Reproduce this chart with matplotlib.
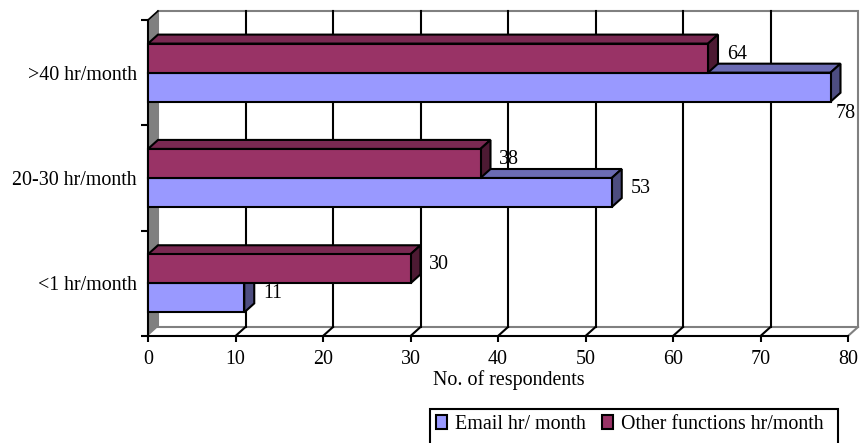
import numpy as np
import matplotlib.pyplot as plt
from matplotlib.patches import Polygon, Patch, Rectangle

# data
categories = ['<1 hr/month', '20-30 hr/month', '>40 hr/month']
email = [11, 53, 78]
other = [30, 38, 64]
series_names = ['Email hr/ month', 'Other functions hr/month']
xticks = [0, 10, 20, 30, 40, 50, 60, 70, 80]

email_cols = ('#9999FF', '#6B6BB3', '#4D4D80')   # front, top, side
other_cols = ('#993366', '#7A2952', '#4D1A33')

plt.rcParams['font.family'] = ['Liberation Serif', 'DejaVu Serif']
plt.rcParams['font.size'] = 14.4

W, H = 860, 443
fig = plt.figure(figsize=(W / 100, H / 100), dpi=100)
ax = fig.add_axes([148 / W, 1 - 336 / H, 700 / W, 316 / H])
xmax = xticks[-1]
ax.set_xlim(0, xmax)
ax.set_ylim(-0.5, len(categories) - 0.5)
ytop = len(categories) - 0.5

# depth of the fake 3d box in data units (about 10 px right, 9 px up)
dx = 10 * xmax / 700
dy = 9 * len(categories) / 316
bh = 0.276

# back wall, left wall, floor grid
ax.add_patch(Polygon([(dx, -0.5 + dy), (xmax + dx, -0.5 + dy), (xmax + dx, ytop + dy), (dx, ytop + dy)],
                     closed=True, facecolor='white', edgecolor='#808080', lw=1.5, clip_on=False, zorder=0))
ax.add_patch(Polygon([(0, -0.5), (0, ytop), (dx, ytop + dy), (dx, -0.5 + dy)],
                     closed=True, facecolor='#808080', edgecolor='none', clip_on=False, zorder=0.5))
ax.plot([0, dx], [ytop, ytop + dy], color='black', lw=1.2, clip_on=False, zorder=0.6)
for t in xticks[1:]:
    col = 'black' if t < xmax else '#808080'
    if t < xmax:
        ax.plot([t + dx, t + dx], [-0.5 + dy, ytop + dy], color=col, lw=1.5, clip_on=False, zorder=1)
    ax.plot([t, t + dx], [-0.5, -0.5 + dy], color=col, lw=1.5, clip_on=False, zorder=1)


def bar3d(v, y0, cols, z):
    y1 = y0 + bh
    faces = [
        ([(0, y1), (v, y1), (v + dx, y1 + dy), (dx, y1 + dy)], cols[1]),
        ([(v, y0), (v, y1), (v + dx, y1 + dy), (v + dx, y0 + dy)], cols[2]),
        ([(0, y0), (v, y0), (v, y1), (0, y1)], cols[0]),
    ]
    for pts, c in faces:
        ax.add_patch(Polygon(pts, closed=True, facecolor=c, edgecolor='black',
                             lw=1.5, joinstyle='miter', clip_on=False, zorder=z))


def value_label(v, y0):
    y1 = y0 + bh
    x = v + dx + 1.0
    if x + 2.5 > xmax + dx:
        ax.text(v + dx - 0.6, y0 - 0.11, str(v), ha='left', va='center', zorder=6)
    else:
        ax.text(x, y1 - 0.1, str(v), ha='left', va='center', zorder=6)


for i in range(len(categories)):
    bar3d(email[i], i - bh, email_cols, 3 + i)
    bar3d(other[i], i, other_cols, 3.5 + i)
    value_label(email[i], i - bh)
    value_label(other[i], i)

# axes
for s in ['top', 'right']:
    ax.spines[s].set_visible(False)
for s in ['left', 'bottom']:
    ax.spines[s].set_linewidth(1.5)
    ax.spines[s].set_zorder(2)
ax.set_xticks(xticks)
ax.tick_params(axis='x', direction='out', length=4, width=1.5, pad=6)
ax.set_yticks(np.arange(len(categories) + 1) - 0.5)
ax.set_yticklabels([])
ax.set_yticks(np.arange(len(categories)), minor=True)
ax.set_yticklabels(categories, minor=True)
ax.tick_params(axis='y', which='major', direction='out', length=5, width=1.5)
ax.tick_params(axis='y', which='minor', length=0, pad=8)
ax.set_xlabel('No. of respondents')
ax.xaxis.set_label_coords(0.516, -0.108)

handles = [Patch(facecolor=email_cols[0], edgecolor='black', lw=1.5),
           Patch(facecolor=other_cols[0], edgecolor='black', lw=1.5)]
leg = fig.legend(handles, series_names, loc='upper left', bbox_to_anchor=(432 / W, 1 - 411 / H),
                 ncol=2, frameon=False,
                 handlelength=0.55, handleheight=0.65, handletextpad=0.4, columnspacing=0.8,
                 borderpad=0.2, borderaxespad=0)
# legend box runs off the bottom edge of the picture
fig.patches.append(Rectangle((430 / W, -0.05), 408 / W, 0.05 + 1 - 409 / H, transform=fig.transFigure,
                             facecolor='none', edgecolor='black', lw=1.5))

fig.savefig('out.png', dpi=100)
